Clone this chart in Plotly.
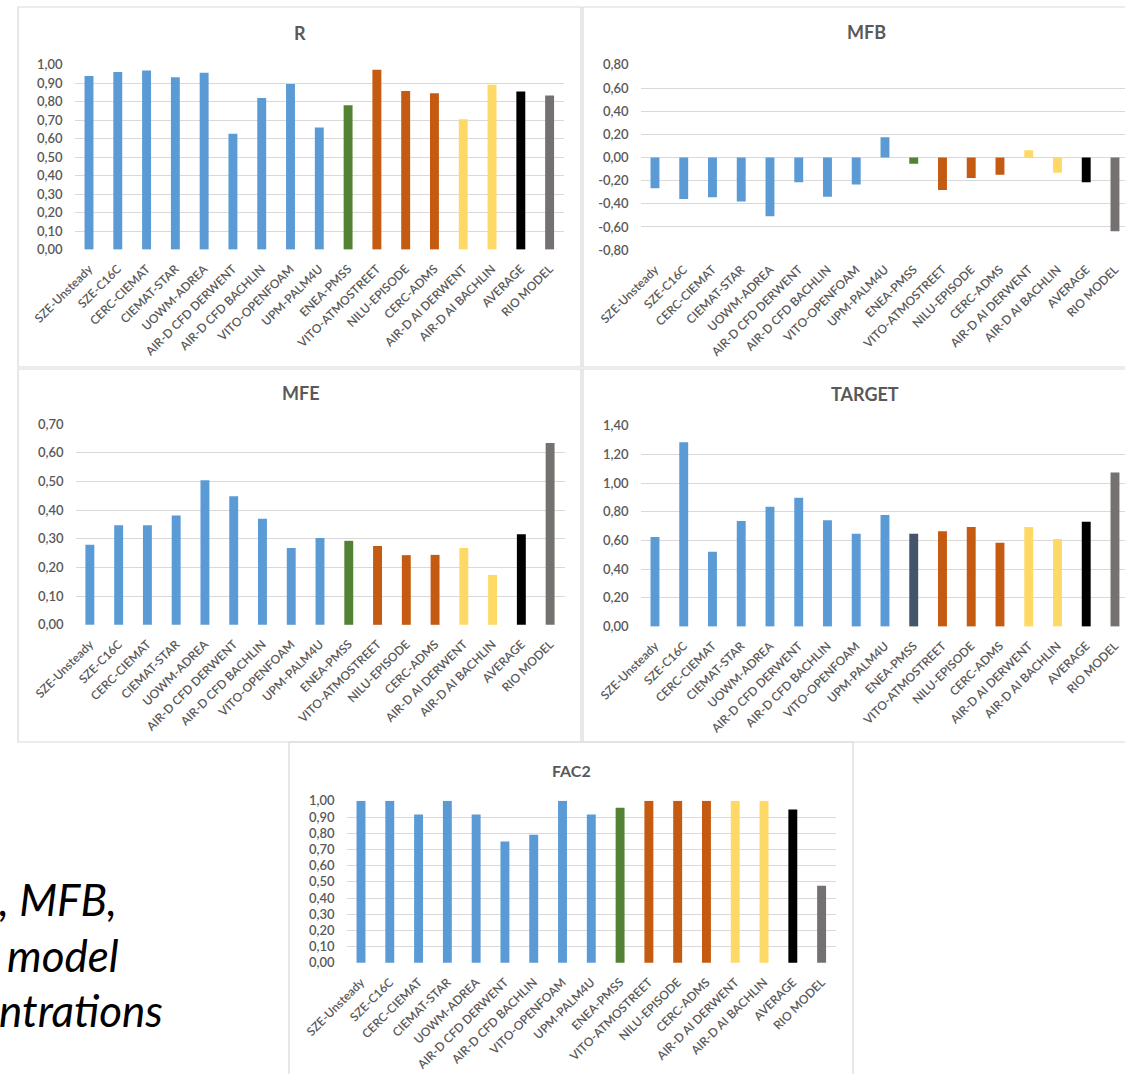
import plotly.graph_objects as go

# ---------------- data ----------------
categories = ["SZE-Unsteady", "SZE-C16C", "CERC-CIEMAT", "CIEMAT-STAR", "UOWM-ADREA",
              "AIR-D CFD DERWENT", "AIR-D CFD BACHLIN", "VITO-OPENFOAM", "UPM-PALM4U",
              "ENEA-PMSS", "VITO-ATMOSTREET", "NILU-EPISODE", "CERC-ADMS",
              "AIR-D AI DERWENT", "AIR-D AI BACHLIN", "AVERAGE", "RIO MODEL"]

r_values = [0.94, 0.962, 0.969, 0.933, 0.957, 0.627, 0.82, 0.897, 0.661,
            0.782, 0.973, 0.859, 0.847, 0.706, 0.892, 0.856, 0.834]
mfb_values = [-0.266, -0.358, -0.343, -0.381, -0.507, -0.214, -0.338, -0.234, 0.174,
              -0.053, -0.280, -0.177, -0.148, 0.062, -0.131, -0.214, -0.636]
mfe_values = [0.279, 0.347, 0.347, 0.381, 0.504, 0.449, 0.370, 0.268, 0.303,
              0.293, 0.275, 0.243, 0.244, 0.268, 0.174, 0.316, 0.634]
target_values = [0.625, 1.286, 0.522, 0.736, 0.836, 0.899, 0.741, 0.648, 0.778,
                 0.648, 0.664, 0.694, 0.585, 0.694, 0.611, 0.731, 1.075]
fac2_values = [1.00, 1.00, 0.916, 1.00, 0.916, 0.749, 0.791, 1.00, 0.916,
               0.957, 1.00, 1.00, 1.00, 1.00, 1.00, 0.947, 0.476]

r_ticks = [0.0, 0.1, 0.2, 0.3, 0.4, 0.5, 0.6, 0.7, 0.8, 0.9, 1.0]
mfb_ticks = [-0.8, -0.6, -0.4, -0.2, 0.0, 0.2, 0.4, 0.6, 0.8]
mfe_ticks = [0.0, 0.1, 0.2, 0.3, 0.4, 0.5, 0.6, 0.7]
target_ticks = [0.0, 0.2, 0.4, 0.6, 0.8, 1.0, 1.2, 1.4]
fac2_ticks = [0.0, 0.1, 0.2, 0.3, 0.4, 0.5, 0.6, 0.7, 0.8, 0.9, 1.0]

titles = ["R", "MFB", "MFE", "TARGET", "FAC2"]
caption_lines = [", MFB,", "model", "ntrations"]

# ---------------- styling ----------------
BLUE, GREEN, SLATE = "#5B9BD5", "#548235", "#44546A"
ORANGE, YELLOW, BLACK, GRAY = "#C55A11", "#FFD966", "#000000", "#767171"
base_colors = [BLUE] * 9 + [GREEN] + [ORANGE] * 3 + [YELLOW] * 2 + [BLACK, GRAY]
target_colors = [BLUE] * 9 + [SLATE] + [ORANGE] * 3 + [YELLOW] * 2 + [BLACK, GRAY]

W, H = 1125, 1074
FONT = "Lato"
TXT = "#595959"
GRID = "#D9D9D9"
SP = 28.75  # px per category (for clipped panels)


def px(x):
    return x / W


def py(y):
    return 1 - y / H


def fmt(v):
    return f"{v:.2f}".replace(".", ",")


panels = [
    dict(vals=r_values, ticks=r_ticks, colors=base_colors, title=titles[0],
         box=(18, 7, 581, 367), xd=(74.6, 564), yd=(64.7, 249.7), xr=[-0.5, 16.5],
         yr=[0, 1.0], tpos=(299.5, 33), tsize=18),
    dict(vals=mfb_values, ticks=mfb_ticks, colors=base_colors, title=titles[1],
         box=(583, 7, 1140, 367), xd=(640.6, 1125), yd=(64.7, 250.3),
         xr=[-0.5, -0.5 + (1125 - 640.6) / SP], yr=[-0.8, 0.8], tpos=(866, 32), tsize=18),
    dict(vals=mfe_values, ticks=mfe_ticks, colors=base_colors, title=titles[2],
         box=(18, 369, 581, 742), xd=(75.5, 564.5), yd=(424, 625), xr=[-0.5, 16.5],
         yr=[0, 0.7], tpos=(301, 393), tsize=18),
    dict(vals=target_values, ticks=target_ticks, colors=target_colors, title=titles[3],
         box=(583, 369, 1140, 742), xd=(640.6, 1125), yd=(425.7, 626.7),
         xr=[-0.5, -0.5 + (1125 - 640.6) / SP], yr=[0, 1.4], tpos=(865, 394), tsize=18),
    dict(vals=fac2_values, ticks=fac2_ticks, colors=base_colors, title=titles[4],
         box=(289, 742, 853, 1090), xd=(346.6, 836), yd=(800.7, 963), xr=[-0.5, 16.5],
         yr=[0, 1.0], tpos=(571, 770), tsize=16),
]

fig = go.Figure()
shapes = []
annotations = []
layout = {}

for i, p in enumerate(panels, start=1):
    xa = "x" if i == 1 else f"x{i}"
    ya = "y" if i == 1 else f"y{i}"
    fig.add_trace(go.Bar(x=categories, y=p["vals"], marker=dict(color=p["colors"], line=dict(width=0)),
                         xaxis=xa, yaxis=ya, showlegend=False, hoverinfo="x+y"))
    yr = p["yr"]
    span = yr[1] - yr[0]
    layout[f"xaxis{'' if i == 1 else i}"] = dict(
        domain=[px(p["xd"][0]), px(p["xd"][1])], anchor=ya, type="category",
        range=p["xr"], tickangle=-45, showgrid=False, zeroline=False, automargin=False,
        showline=False, ticks="", ticklabelstandoff=9,
        tickfont=dict(family=FONT, size=12, color=TXT, weight=600), fixedrange=True)
    layout[f"yaxis{'' if i == 1 else i}"] = dict(
        domain=[py(p["yd"][1]), py(p["yd"][0])], anchor=xa, automargin=False,
        range=[yr[0] - span * 0.001, yr[1] + span * 0.001],
        tickvals=p["ticks"], ticktext=[fmt(v) for v in p["ticks"]],
        showgrid=True, gridcolor=GRID, gridwidth=1.3, zeroline=False,
        showline=False, ticks="", ticklabelstandoff=11,
        tickfont=dict(family=FONT, size=13, color=TXT, weight=600), fixedrange=True)
    x0, y0, x1, y1 = p["box"]
    shapes.append(dict(type="rect", xref="paper", yref="paper",
                       x0=px(x0), x1=px(x1), y0=py(y1), y1=py(y0),
                       line=dict(color=GRID, width=1.2), fillcolor="rgba(0,0,0,0)", layer="below"))
    annotations.append(dict(text=f"<b>{p['title']}</b>", xref="paper", yref="paper",
                            x=px(p["tpos"][0]), y=py(p["tpos"][1]), xanchor="center", yanchor="middle",
                            showarrow=False, font=dict(family=FONT, size=p["tsize"], color=TXT)))

caption_pos = [(-3, 899), (5, 955), (-3, 1010)]
for txt, (cx, cy) in zip(caption_lines, caption_pos):
    annotations.append(dict(text=txt, xref="paper", yref="paper", x=px(cx), y=py(cy),
                            xanchor="left", yanchor="middle", showarrow=False,
                            font=dict(family=FONT, size=44, color="#000000", style="italic")))

fig.update_layout(
    width=W, height=H, margin=dict(l=0, r=0, t=0, b=0, autoexpand=False),
    paper_bgcolor="white", plot_bgcolor="white",
    bargap=0.69, separators=",.", shapes=shapes, annotations=annotations,
    **layout)

fig.write_html("out.html", config={"displayModeBar": False},
               post_script="document.body.style.margin='0';document.body.style.overflow='hidden';")
